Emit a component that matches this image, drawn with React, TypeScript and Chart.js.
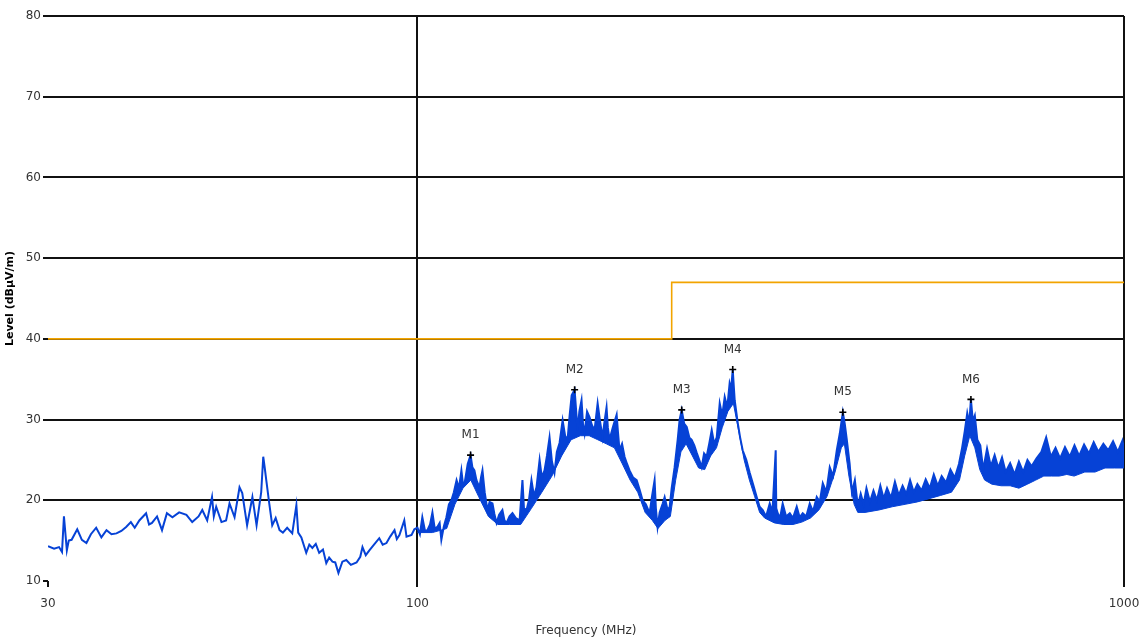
import React, { useEffect, useRef } from "react";
import { Chart, registerables } from "chart.js";
Chart.register(...registerables);

// Measured trace (MHz, dBµV/m)
const traceFreqs = [
  30.0, 30.6, 31.1, 31.4, 31.6, 31.9, 32.1, 32.4, 33.0, 33.5,
  34.0, 34.5, 35.1, 35.7, 36.3, 36.9, 37.5, 38.1, 38.7, 39.3,
  39.8, 40.4, 41.3, 41.7, 42.1, 42.8, 43.5, 44.2, 45.0, 46.0,
  47.1, 48.0, 49.0, 49.6, 50.4, 51.2, 51.5, 51.9, 52.8, 53.6,
  54.2, 55.1, 56.0, 56.5, 57.4, 58.4, 59.2, 60.1, 60.5, 60.8,
  61.1, 61.7, 62.3, 63.0, 63.8, 64.5, 65.4, 66.5, 67.4, 67.8,
  68.5, 69.6, 70.3, 71.0, 71.8, 72.6, 73.5, 74.3, 75.0, 75.8,
  76.5, 77.3, 78.3, 79.3, 80.5, 82.0, 83.0, 83.6, 84.5, 85.5,
  86.8, 88.3, 89.3, 90.4, 91.5, 92.8, 93.5, 94.3, 95.8, 96.5,
  98.1, 99.0, 100, 100.8, 101.6, 102.5, 103.3, 104.2, 105.0, 105.8,
  106.7, 107.5, 108.1, 109.0, 109.9, 110.8, 111.7, 112.6, 113.6, 114.5,
  115.4, 116.0, 116.6, 117.8, 118.9, 119.6, 120.4, 121.2, 122.4, 123.0,
  123.6, 124.5, 125.6, 126.5, 127.7, 128.5, 129.4, 130.5, 131.9, 132.8,
  133.7, 135.0, 136.3, 137.8, 139.5, 140.8, 141.5, 142.7, 143.8, 145.0,
  146.2, 147.4, 148.9, 150.0, 151.3, 152.5, 153.8, 155.0, 156.3, 157.5,
  158.9, 160.5, 161.8, 163.1, 164.2, 165.3, 166.9, 168.5, 169.5, 170.7,
  171.5, 172.4, 173.8, 175.2, 176.6, 178.1, 179.9, 181.3, 182.8, 183.8,
  185.2, 186.0, 187.0, 189.0, 191.4, 192.2, 193.2, 194.8, 196.4, 198.0,
  199.6, 202.0, 204.3, 206.3, 208.3, 210.5, 213.1, 214.8, 216.6, 217.5,
  218.7, 220.2, 222.4, 223.8, 226.0, 227.5, 229.0, 231.2, 233.5, 235.0,
  236.6, 238.5, 240.5, 242.5, 244.4, 246.5, 248.4, 250.5, 252.5, 254.5,
  256.6, 258.8, 260.9, 263.0, 265.2, 267.8, 270.0, 272.2, 274.5, 276.6,
  278.0, 279.4, 281.2, 284.0, 286.2, 288.6, 292.0, 295.3, 298.5, 302.1,
  305.0, 308.1, 311.5, 315.2, 318.0, 321.4, 322.0, 323.5, 326.0, 328.8,
  332.5, 336.5, 340.0, 344.2, 347.5, 351.0, 355.0, 359.1, 363.0, 367.4,
  371.0, 374.7, 379.0, 383.3, 387.5, 392.2, 396.1, 400.0, 402.5, 405.2,
  409, 412, 416, 420, 424, 428, 432, 437, 442, 447,
  452, 457, 462, 468, 474, 480, 486, 492, 498, 504,
  510, 517, 524, 531, 538, 545, 552, 560, 568, 576,
  584, 590, 595, 600, 604, 607.2, 611, 615, 620, 626,
  632, 640, 648, 656, 664, 672, 680, 690, 700, 710,
  720, 730, 740, 752, 764, 776, 788, 800, 812, 825,
  838, 851, 864, 878, 892, 906, 920, 935, 950, 965,
  980, 995, 1000,
];
const traceLevels = [
  14.3, 14.0, 14.2, 13.6, 18.0, 13.8, 15.0, 15.1, 16.4, 15.1,
  14.7, 15.8, 16.6, 15.4, 16.3, 15.8, 15.9, 16.2, 16.7, 17.3,
  16.6, 17.5, 18.4, 17.0, 17.2, 18.0, 16.3, 18.4, 17.9, 18.5,
  18.2, 17.3, 18.0, 18.8, 17.5, 20.4, 18.0, 19.2, 17.3, 17.5,
  19.6, 17.9, 21.6, 20.9, 16.9, 20.4, 16.9, 21.0, 25.4, 24.0,
  22.5, 19.6, 16.9, 17.8, 16.3, 16.0, 16.6, 15.9, 19.4, 16.0,
  15.4, 13.5, 14.5, 14.1, 14.6, 13.5, 13.9, 12.2, 12.9, 12.4,
  12.3, 11.0, 12.4, 12.6, 12.0, 12.3, 13.0, 14.2, 13.2, 13.8,
  14.5, 15.3, 14.5, 14.7, 15.5, 16.3, 15.2, 15.7, 17.5, 15.5,
  15.7, 16.4, 16.6, 15.8, 17.9, 16.2, 16.3, 17.0, 18.5, 16.5,
  16.7, 17.2, 15.1, 16.8, 17.9, 19.5, 20.0, 21.0, 22.5, 21.5,
  23.7, 22.0, 22.1, 24.5, 25.6, 24.1, 23.7, 22.5, 21.6, 22.8,
  23.7, 21.0, 18.8, 19.8, 19.6, 18.3, 17.2, 18.2, 18.8, 17.5,
  17.2, 18.0, 18.4, 17.8, 17.5, 22.5, 19.0, 18.8, 20.0, 22.5,
  20.5, 21.6, 25.0, 22.8, 23.7, 25.5, 27.8, 24.8, 23.4, 26.0,
  27.1, 29.9, 28.0, 27.5, 30.5, 33.0, 33.7, 28.7, 31.0, 32.4,
  29.5, 28.3, 31.0, 30.3, 29.3, 28.7, 32.0, 29.8, 27.8, 29.5,
  31.5, 29.0, 27.5, 29.0, 30.6, 28.5, 26.2, 27.0, 25.4, 24.5,
  23.7, 22.8, 22.5, 21.3, 20.0, 19.5, 18.4, 20.5, 22.5, 19.0,
  16.7, 18.5, 19.6, 20.4, 18.8, 19.2, 21.5, 24.1, 27.5, 30.0,
  31.2, 29.5, 29.1, 27.8, 27.5, 26.8, 25.9, 25.0, 24.1, 25.8,
  25.4, 27.0, 28.7, 27.0, 27.8, 32.0, 30.5, 32.8, 31.5, 34.5,
  33.8, 36.2, 32.4, 29.6, 27.8, 26.2, 25.0, 23.4, 22.0, 20.4,
  19.2, 18.8, 18.0, 19.6, 18.5, 26.2, 19.0, 18.4, 17.8, 19.6,
  18.0, 18.4, 17.8, 19.2, 17.9, 18.4, 18.0, 19.6, 18.6, 20.4,
  19.8, 22.1, 21.0, 24.1, 23.0, 26.2, 28.3, 30.9, 29.5, 27.5,
  24.5, 21.0, 22.5, 19.3, 20.8, 19.5, 21.5, 19.8, 21.2, 20.0,
  21.8, 20.2, 21.5, 20.3, 22.3, 20.6, 21.8, 20.8, 22.5, 21.0,
  22.0, 21.2, 22.6, 21.5, 23.2, 21.8, 23.0, 22.2, 23.8, 22.8,
  24.5, 26.5, 28.5, 30.8, 29.5, 32.5, 29.8, 30.5, 27.5, 26.8,
  23.8, 26.4, 24.2, 25.6, 24.0, 25.3, 23.5, 24.6, 23.2, 24.8,
  23.5, 25.0, 24.2, 25.2, 26.0, 27.8, 25.4, 26.5, 25.2, 26.6,
  25.4, 26.8, 25.5, 26.9, 25.8, 27.2, 26.0, 27.0, 26.2, 27.3,
  26.0, 27.4, 26.3,
];

// Lower edge of the noise band
const floorFreqs = [
  100, 105, 110, 113, 116, 119, 122, 126, 130, 135,
  140, 145, 150, 155, 160, 165, 170, 175, 180, 185,
  190, 195, 200, 205, 210, 215, 219, 224, 228, 232,
  236, 240, 245, 250, 255, 260, 265, 270, 275, 280,
  285, 290, 295, 300, 305, 310, 320, 330, 340, 350,
  360, 370, 380, 390, 398, 402, 408, 415, 420, 430,
  450, 470, 490, 510, 530, 550, 570, 585, 595, 605,
  615, 625, 635, 650, 670, 690, 710, 730, 750, 770,
  790, 810, 830, 850, 880, 910, 940, 970, 1000,
];
const floorLevels = [
  16.0, 16.0, 16.5, 19.5, 21.5, 22.5, 20.5, 18.0, 17.0, 17.0,
  17.0, 19.0, 21.0, 23.0, 25.5, 27.5, 28.0, 28.0, 27.5, 27.0,
  26.5, 24.5, 22.5, 21.0, 18.5, 17.5, 16.5, 17.5, 18.0, 22.5,
  26.0, 27.0, 25.5, 24.0, 23.8, 25.5, 26.5, 29.0, 31.0, 32.0,
  28.5, 25.0, 22.5, 20.5, 18.5, 17.8, 17.2, 17.0, 17.0, 17.3,
  17.8, 18.8, 20.5, 23.5, 26.5, 27.0, 23.0, 19.5, 18.5, 18.5,
  18.8, 19.2, 19.5, 19.8, 20.2, 20.6, 21.0, 22.5, 25.5, 28.0,
  26.5, 23.8, 22.5, 22.0, 21.8, 21.8, 21.5, 22.0, 22.5, 23.0,
  23.0, 23.0, 23.2, 23.0, 23.5, 23.5, 24.0, 24.0, 24.0,
];

// Limit line
const limitFreqs = [30, 229, 229, 1000];
const limitLevels = [40, 40, 47, 47];

// Markers
const markerNames = ["M1", "M2", "M3", "M4", "M5", "M6"];
const markerFreqs = [118.9, 166.9, 236.6, 279.4, 400.0, 607.2];
const markerLevels = [25.6, 33.7, 31.2, 36.2, 30.9, 32.5];

// Axes
const xTickValues = [30, 100, 1000];
const xGridValues = [100, 1000];
const yMin = 10;
const yMax = 80;
const yStep = 10;

const FONT = "'DejaVu Sans', sans-serif";
const BLUE = "#0642D6";
const ORANGE = "#F2A400";
const TEXT = "#333333";

const zip = (xs: number[], ys: number[]) => xs.map((x, i) => ({ x, y: ys[i] }));

export default function App() {
  const ref = useRef<HTMLCanvasElement>(null);

  useEffect(() => {
    document.body.style.margin = "0";
    const canvas = ref.current;
    if (!canvas) return;

    const markerLabels = {
      id: "markerLabels",
      afterDatasetsDraw(chart: any) {
        const { ctx, scales } = chart;
        ctx.save();
        ctx.font = `12px ${FONT}`;
        ctx.fillStyle = TEXT;
        ctx.textAlign = "center";
        ctx.textBaseline = "middle";
        markerNames.forEach((n, i) => {
          const px = scales.x.getPixelForValue(markerFreqs[i]);
          const py = scales.y.getPixelForValue(markerLevels[i]);
          ctx.fillText(n, px, py - 20);
        });
        ctx.restore();
      },
    };

    const chart = new Chart(canvas, {
      type: "line",
      data: {
        datasets: [
          {
            label: "Trace",
            data: zip(traceFreqs, traceLevels),
            borderColor: BLUE,
            backgroundColor: BLUE,
            borderWidth: 2,
            pointRadius: 0,
            tension: 0,
            fill: false,
            order: 1,
          },
          {
            label: "Floor",
            data: zip(floorFreqs, floorLevels),
            borderColor: BLUE,
            backgroundColor: BLUE,
            borderWidth: 1,
            pointRadius: 0,
            tension: 0,
            fill: "-1",
            order: 2,
          },
          {
            label: "Limit",
            data: zip(limitFreqs, limitLevels),
            borderColor: ORANGE,
            backgroundColor: ORANGE,
            borderWidth: 1.6,
            pointRadius: 0,
            tension: 0,
            fill: false,
            order: 3,
          },
          {
            label: "Markers",
            data: zip(markerFreqs, markerLevels),
            showLine: false,
            borderColor: "#000",
            backgroundColor: "#000",
            pointStyle: "cross",
            pointRadius: 3.5,
            pointBorderWidth: 1.6,
            order: 0,
          },
        ],
      },
      options: {
        responsive: false,
        devicePixelRatio: 1,
        animation: false,
        layout: { padding: { top: 16, right: 19, left: 0, bottom: 6 } },
        plugins: {
          legend: { display: false },
          tooltip: { enabled: false },
        },
        scales: {
          x: {
            type: "logarithmic",
            min: 30,
            max: 1000,
            afterBuildTicks: (axis: any) => {
              axis.ticks = xTickValues.map((v) => ({ value: v }));
            },
            afterFit: (scale: any) => {
              scale.height = 57;
              scale.paddingLeft = 0;
              scale.paddingRight = 0;
            },
            border: { display: false },
            grid: {
              color: (c: any) =>
                c.tick && xGridValues.includes(c.tick.value) ? "#111" : "rgba(0,0,0,0)",
              tickColor: "#111",
              lineWidth: 2,
              tickLength: 6,
            },
            ticks: {
              autoSkip: false,
              maxRotation: 0,
              padding: 10,
              color: TEXT,
              font: { family: FONT, size: 12 },
              callback: (v: any) => String(v),
            },
            title: {
              display: true,
              text: "Frequency (MHz)",
              color: TEXT,
              font: { family: FONT, size: 12 },
              padding: { top: 8, bottom: 0 },
            },
          },
          y: {
            type: "linear",
            min: yMin,
            max: yMax,
            afterFit: (scale: any) => {
              scale.width = 48;
              scale.paddingTop = 0;
              scale.paddingBottom = 0;
            },
            border: { display: false },
            grid: {
              color: (c: any) => (c.tick && c.tick.value === yMin ? "rgba(0,0,0,0)" : "#111"),
              tickColor: "#111",
              lineWidth: 2,
              tickLength: 5,
            },
            ticks: {
              stepSize: yStep,
              padding: 2,
              color: TEXT,
              font: { family: FONT, size: 12 },
            },
            title: {
              display: true,
              text: "Level (dBµV/m)",
              color: "#000",
              font: { family: FONT, size: 11, weight: "bold" },
              padding: { top: 4, bottom: 2 },
            },
          },
        },
      },
      plugins: [markerLabels],
    });

    return () => chart.destroy();
  }, []);

  return (
    <div style={{ width: 1143, height: 644, position: "relative" }}>
      <canvas ref={ref} width={1143} height={644} style={{ display: "block" }} />
    </div>
  );
}
